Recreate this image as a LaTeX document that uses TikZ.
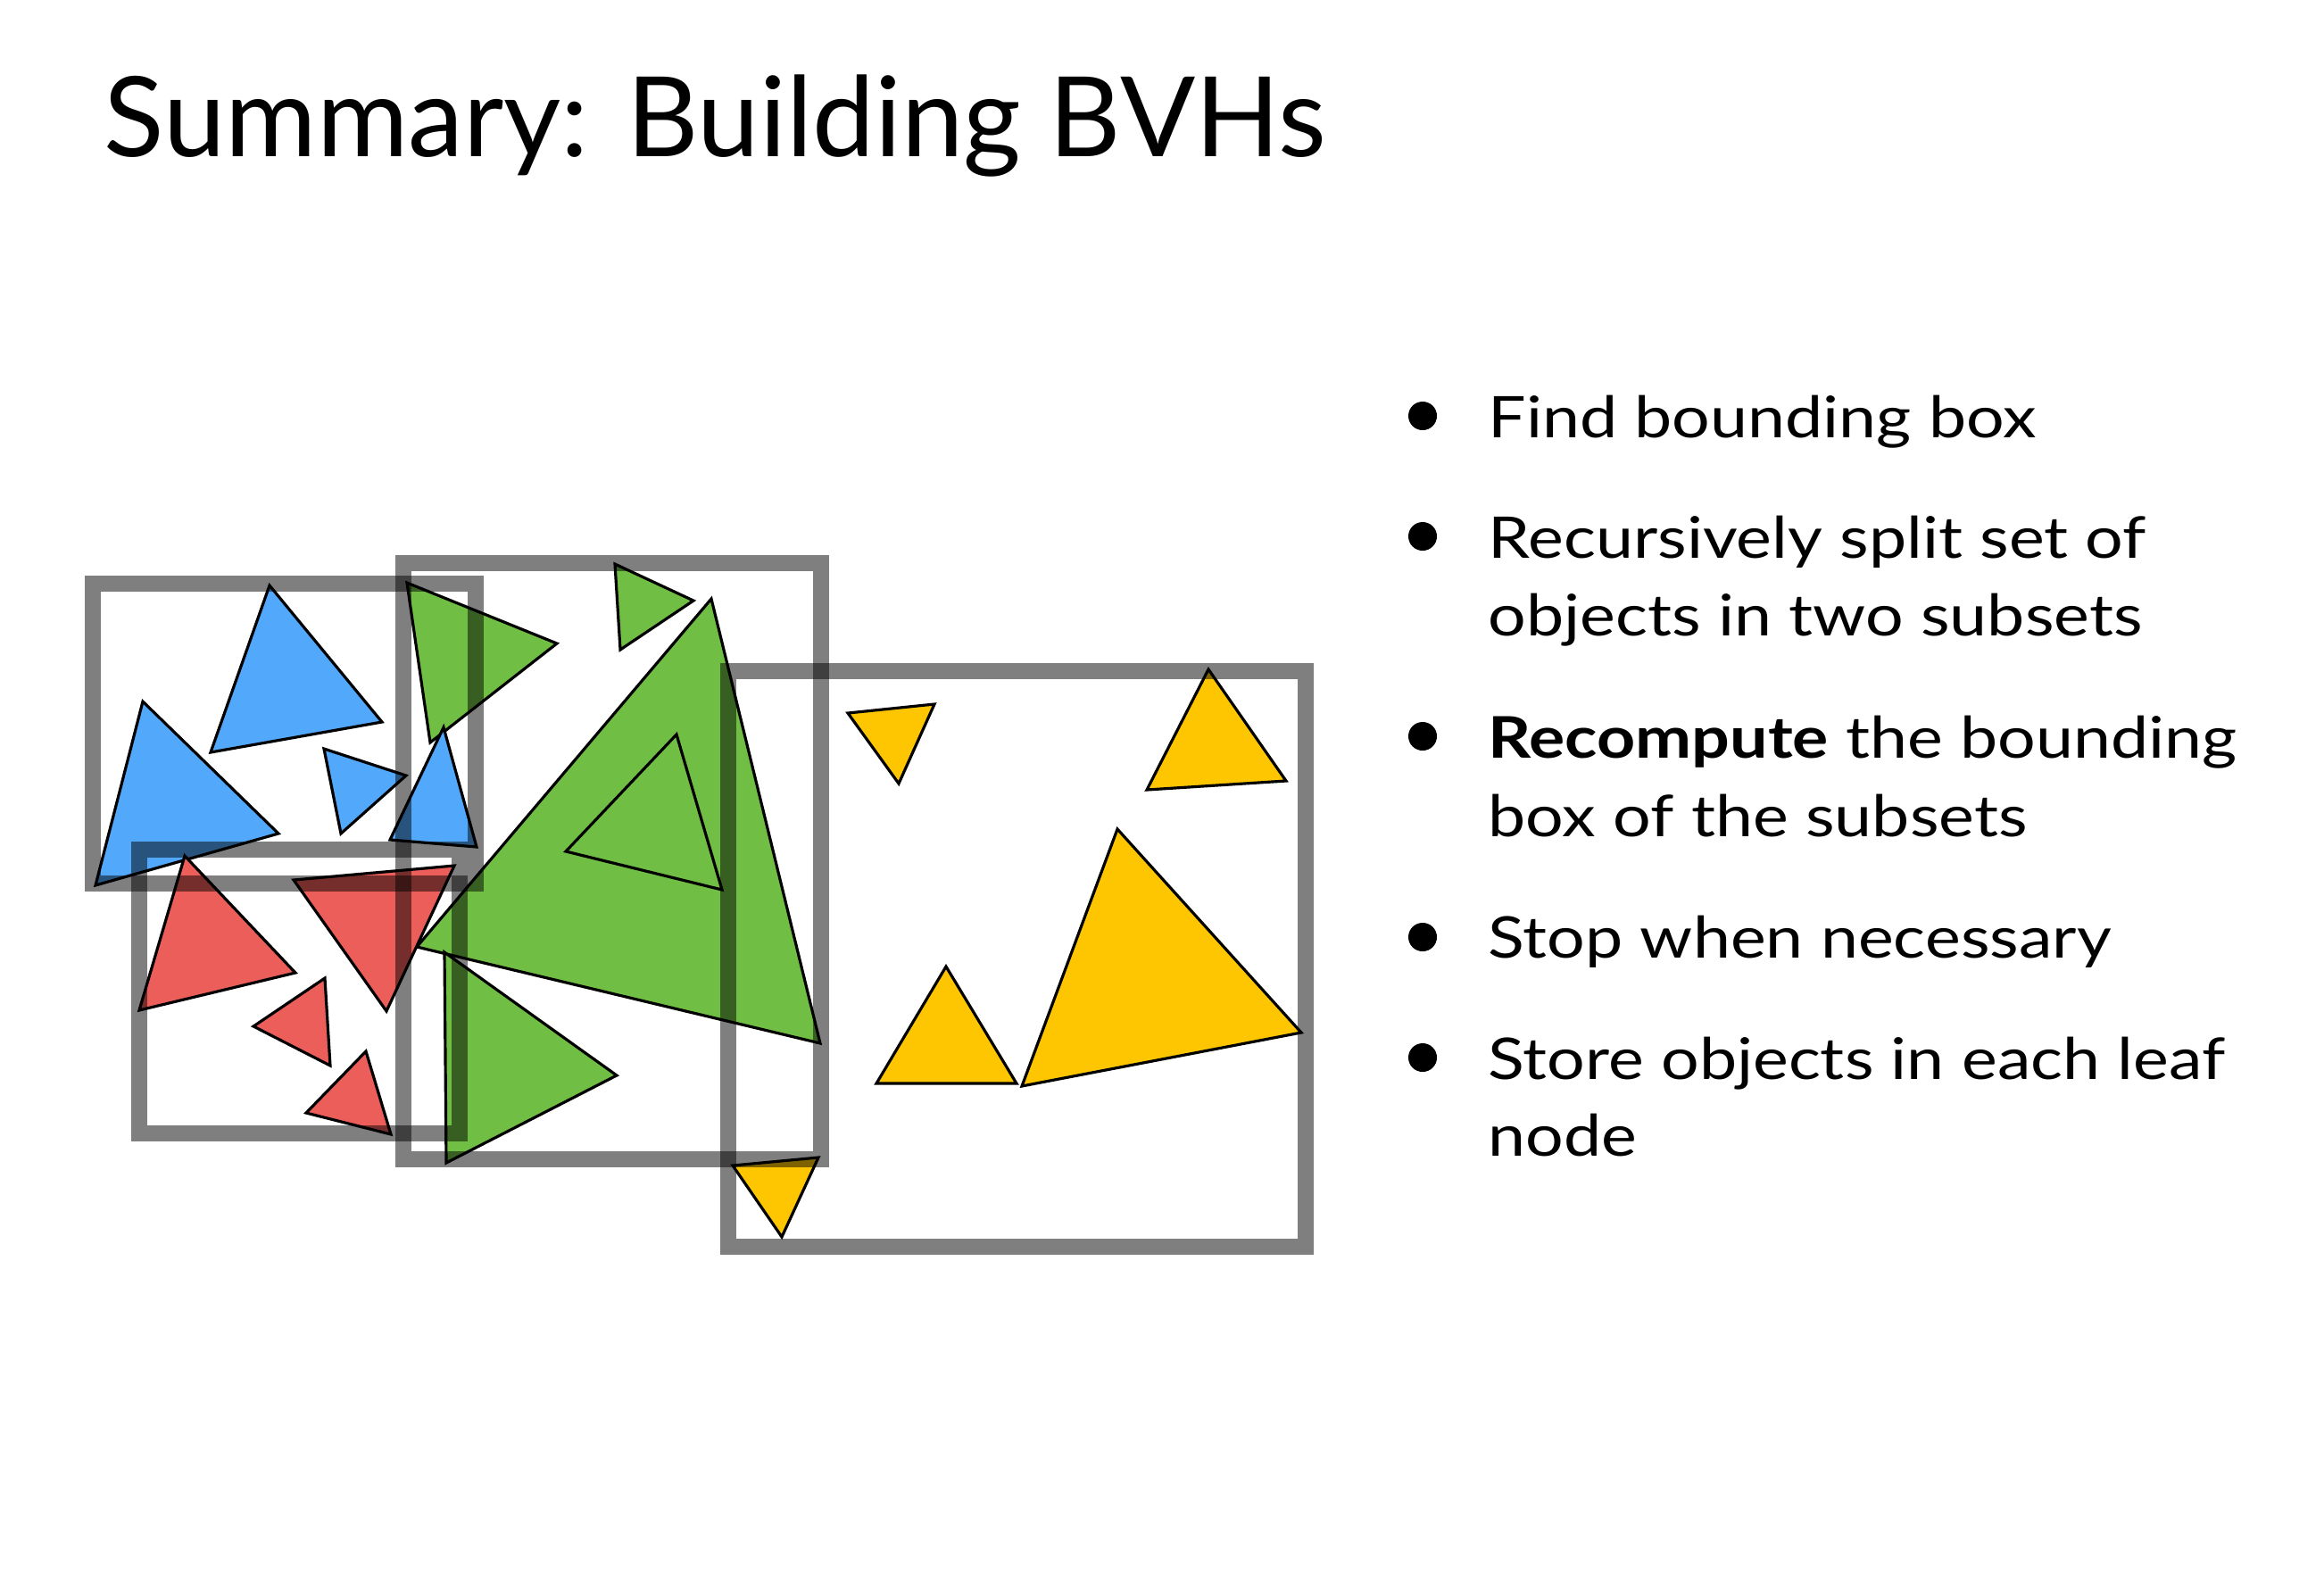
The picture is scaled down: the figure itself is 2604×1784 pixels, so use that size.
\documentclass[tikz,border=0pt]{standalone}
\usepackage{fontspec}
\setmainfont{Lato}
\newfontfamily\listfont{Lato}[FakeStretch=1.17]
\usepackage{xcolor}
\usepackage{tikz}
\usetikzlibrary{calc, positioning}

\definecolor{bvhblue}{RGB}{82,168,250}
\definecolor{bvhred}{RGB}{235,94,90}
\definecolor{bvhgreen}{RGB}{112,191,68}
\definecolor{bvhyellow}{RGB}{254,198,0}

\begin{document}
\begin{tikzpicture}[x=0.01cm, y=-0.01cm,
    tri/.style={draw=black, line width=0.9pt, line join=miter},
    bbox/.style={draw=black, draw opacity=0.5, line width=5.1pt},
    item/.style={anchor=base west, inner sep=0pt, font=\listfont\fontsize{18.3}{22}\selectfont}]
    \useasboundingbox (0,0) rectangle (2604,1784);

    % 1. Title
    \node[anchor=base west, inner sep=0pt, font=\fontsize{35.4}{40}\selectfont]
        (title) at (116,175) {Summary: Building BVHs};

    % 2. Triangles
    \filldraw[tri, fill=bvhblue] (302,656) -- (428,809) -- (236,843) -- cycle;
    \filldraw[tri, fill=bvhblue] (160,786) -- (312,934) -- (107,992) -- cycle;
    \filldraw[tri, fill=bvhblue] (363,839) -- (455,869) -- (382,934) -- cycle;

    \filldraw[tri, fill=bvhgreen] (456,653) -- (624,721) -- (482,832) -- cycle;
    \filldraw[tri, fill=bvhblue] (497,815) -- (534,949) -- (437,941) -- cycle;
    \filldraw[tri, fill=bvhgreen] (689,632) -- (777,673) -- (695,728) -- cycle;

    \filldraw[tri, fill=bvhred] (207,959) -- (331,1090) -- (156,1132) -- cycle;
    \filldraw[tri, fill=bvhred] (364,1096) -- (370,1194) -- (284,1150) -- cycle;
    \filldraw[tri, fill=bvhred] (410,1178) -- (438,1271) -- (343,1247) -- cycle;

    \filldraw[tri, fill=bvhgreen] (797,671) -- (919,1169) -- (467,1061) -- cycle;
    \filldraw[tri, fill=bvhred] (329,986) -- (509,970) -- (433,1133) -- cycle;
    \filldraw[tri, fill=bvhgreen] (758,823) -- (809,997) -- (634,954) -- cycle;
    \filldraw[tri, fill=bvhgreen] (498,1067) -- (691,1205) -- (500,1303) -- cycle;

    \filldraw[tri, fill=bvhyellow] (950,799) -- (1047,789) -- (1007,878) -- cycle;
    \filldraw[tri, fill=bvhyellow] (1354,750) -- (1441,875) -- (1285,885) -- cycle;
    \filldraw[tri, fill=bvhyellow] (1252,929) -- (1458,1157) -- (1145,1217) -- cycle;
    \filldraw[tri, fill=bvhyellow] (1060,1083) -- (1139,1214) -- (982,1214) -- cycle;
    \filldraw[tri, fill=bvhyellow] (821,1306) -- (917,1297) -- (876,1386) -- cycle;

    % 3. Bounding boxes
    \draw[bbox] (104,654) rectangle (533,990);
    \draw[bbox] (156,952) rectangle (515,1270);
    \draw[bbox] (452,631) rectangle (920,1299);
    \draw[bbox] (816,752) rectangle (1463,1397);

    % 4. Bullet list
    \foreach \y in {466,601,825,1050,1185}
        \fill (1594,\y) circle (0.16cm);
    \node[item] (find) at (1667,490) {Find bounding box};
    \node[item] (split) at (1667,625) {Recursively split set of};
    \node[item] (splitb) at (1667,712) {objects in two subsets};
    \node[item] (recomp) at (1667,849) {\textbf{Recompute} the bounding};
    \node[item] (recompb) at (1667,937) {box of the subsets};
    \node[item] (stop) at (1667,1073) {Stop when necessary};
    \node[item] (store) at (1667,1209) {Store objects in each leaf};
    \node[item] (storeb) at (1667,1295) {node};
\end{tikzpicture}
\end{document}
